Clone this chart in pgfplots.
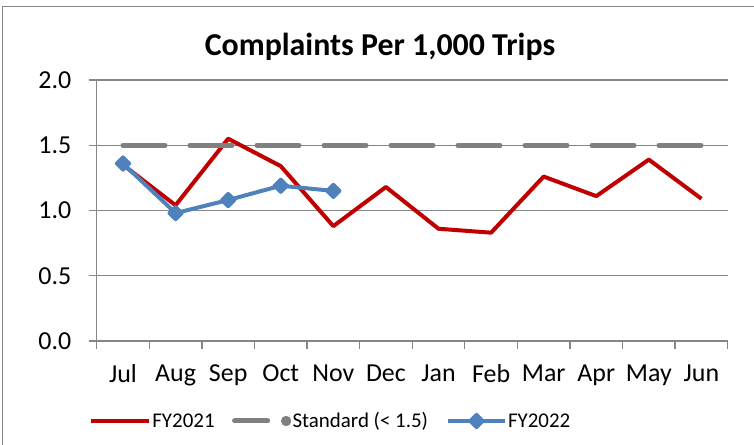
\documentclass[border=0pt]{standalone}
\usepackage{fontspec}
\setmainfont{Carlito}
\usepackage{pgfplots}
\usepackage{pgfplotstable}
\pgfplotsset{compat=1.18}
\definecolor{fyred}{RGB}{192,0,0}
\definecolor{fyblue}{RGB}{79,129,189}
\definecolor{stdgray}{RGB}{128,128,128}
\definecolor{axgray}{RGB}{134,134,134}

% month index 0 = Jul ... 11 = Jun
\pgfplotstableread{
x  fy21  std
0  1.35  1.5
1  1.04  1.5
2  1.55  1.5
3  1.34  1.5
4  0.88  1.5
5  1.18  1.5
6  0.86  1.5
7  0.83  1.5
8  1.26  1.5
9  1.11  1.5
10 1.39  1.5
11 1.09  1.5
}\fyone
\pgfplotstableread{
x  fy22
0  1.36
1  0.98
2  1.08
3  1.19
4  1.15
}\fytwo

\begin{document}
\begin{tikzpicture}[x=1bp,y=1bp]
\useasboundingbox (0,0) rectangle (754,445);
\draw[axgray, line width=1.3bp] (2.3,-5) -- (2.3,438.3) -- (760,438.3);
\node[font=\fontsize{32}{32}\selectfont\bfseries] at (380,398) {Complaints Per 1,000 Trips};
\begin{axis}[
    at={(96.7bp,104bp)}, anchor=south west,
    scale only axis,
    width=631bp, height=261bp,
    xmin=-0.5, xmax=11.5,
    ymin=0, ymax=2,
    axis lines=left,
    axis line style={-, axgray, line width=1.3bp},
    xtick={-0.5,0.5,1.5,2.5,3.5,4.5,5.5,6.5,7.5,8.5,9.5,10.5,11.5},
    x tick label as interval,
    xticklabels={Jul,Aug,Sep,Oct,Nov,Dec,Jan,Feb,Mar,Apr,May,Jun},
    ytick={0,0.5,1,1.5,2},
    yticklabel style={/pgf/number format/fixed, /pgf/number format/fixed zerofill,
        /pgf/number format/precision=1, xshift=-14bp},
    /pgf/number format/assume math mode=true,
    ymajorgrids,
    grid style={axgray, line width=1.3bp},
    tick align=outside,
    major tick length=8bp,
    every tick/.style={axgray, line width=1.3bp},
    tick label style={font=\fontsize{26}{26}\selectfont, text=black},
    xticklabel style={yshift=-12bp},
    legend columns=3,
    legend style={at={(-0.0127,-0.3065)}, anchor=west, draw=none,
        font=\fontsize{21}{21}\selectfont, inner xsep=0pt,
        nodes={inner sep=1.5bp},
        /tikz/every even column/.append style={column sep=16bp}},
]
\addplot[fyred, line width=4bp, line join=round, no marks,
    legend image code/.code={\draw[fyred, line width=4bp] (0bp,0bp) -- (58bp,0bp);}]
    table[x=x, y=fy21] {\fyone};
\addlegendentry{FY2021}
\addplot[stdgray, line width=5bp, line cap=round, dash pattern=on 42bp off 25bp, no marks,
    legend image code/.code={\draw[stdgray, line width=5bp, line cap=round] (2.5bp,0bp) -- (35.5bp,0bp);
        \fill[stdgray] (54bp,0bp) circle (2.5bp);}]
    table[x=x, y=std] {\fyone};
\addlegendentry{Standard (< 1.5)}
\addplot[fyblue, line width=4bp, line join=round, mark=square*, mark size=4.3bp,
    mark options={rotate=45, solid, fill=fyblue},
    legend image code/.code={\draw[fyblue, line width=4bp] (0bp,0bp) -- (57bp,0bp);
        \fill[fyblue, rotate around={45:(29bp,0bp)}] (24.7bp,-4.3bp) rectangle (33.3bp,4.3bp);}]
    table[x=x, y=fy22] {\fytwo};
\addlegendentry{FY2022}
\end{axis}
\end{tikzpicture}
\end{document}
